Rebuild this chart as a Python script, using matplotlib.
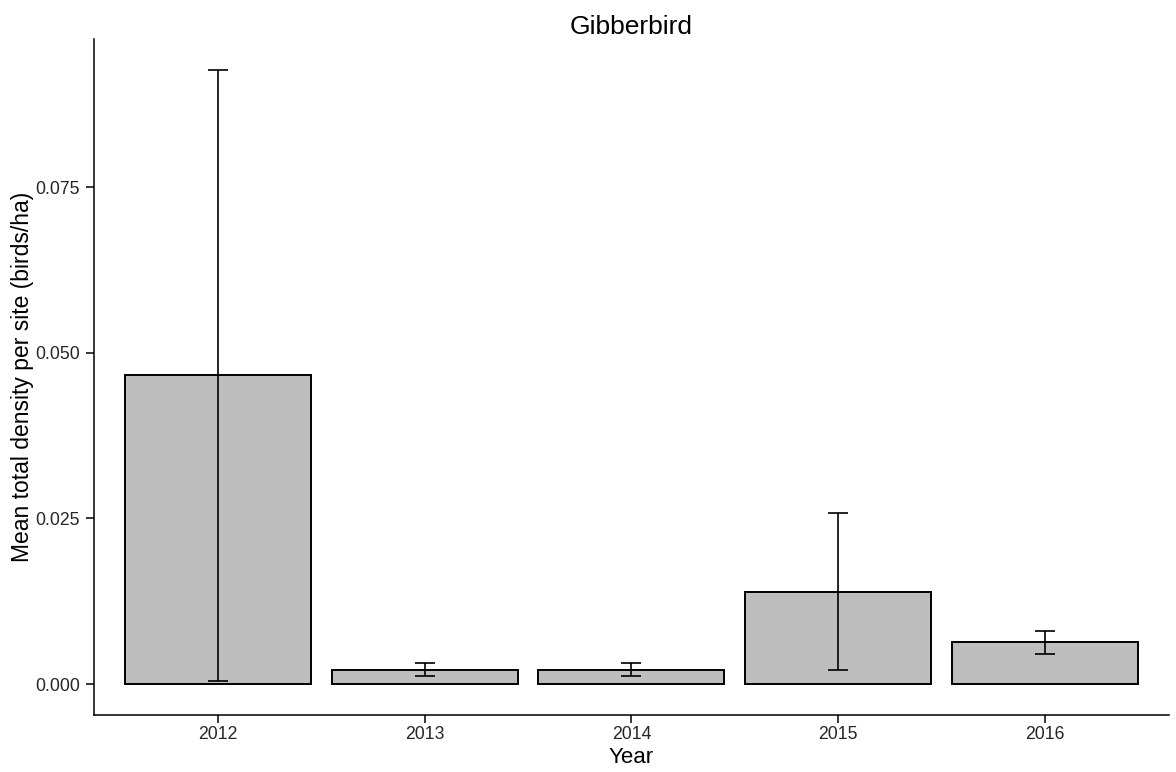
#!/usr/bin/env python3
"""Gibberbird mean total density per site by year."""

import matplotlib

matplotlib.use("Agg")
import matplotlib.pyplot as plt

YEARS = ["2012", "2013", "2014", "2015", "2016"]
MEAN_DENSITY = [0.0466, 0.00218, 0.00216, 0.01395, 0.00627]
ERROR = [0.0461, 0.00101, 0.00098, 0.01182, 0.00171]

plt.rcParams["font.family"] = ["Liberation Sans", "DejaVu Sans"]

fig = plt.figure(figsize=(11.76, 7.72), dpi=100)
ax = fig.add_axes([0.0797, 0.0738, 0.9143, 0.8752])

x = range(len(YEARS))
ax.bar(
    x,
    MEAN_DENSITY,
    width=0.9,
    color="#bebebe",
    edgecolor="black",
    linewidth=1.4,
    zorder=2,
)
ax.errorbar(
    x,
    MEAN_DENSITY,
    yerr=ERROR,
    fmt="none",
    ecolor="black",
    elinewidth=1.2,
    capsize=7.2,
    capthick=1.2,
    zorder=3,
)

ax.set_xlim(-0.6, 4.6)
ax.set_ylim(-0.00468, 0.0973)
ax.set_xticks(list(x))
ax.set_xticklabels(YEARS)
ax.set_yticks([0.0, 0.025, 0.05, 0.075])
ax.set_yticklabels(["0.000", "0.025", "0.050", "0.075"])
ax.tick_params(labelsize=12.7, colors="black", labelcolor="#262626", length=5.5, width=1.1)
ax.tick_params(axis="x", pad=2.5)
ax.tick_params(axis="y", pad=4.3)

for side in ["top", "right"]:
    ax.spines[side].set_visible(False)
for side in ["left", "bottom"]:
    ax.spines[side].set_linewidth(1.1)

ax.set_xlabel("Year", fontsize=16, labelpad=2.5)
ax.set_ylabel("Mean total density per site (birds/ha)", fontsize=16.5, labelpad=1)
ax.set_title("Gibberbird", fontsize=19, pad=0.5)

fig.savefig("out.png", dpi=100)
